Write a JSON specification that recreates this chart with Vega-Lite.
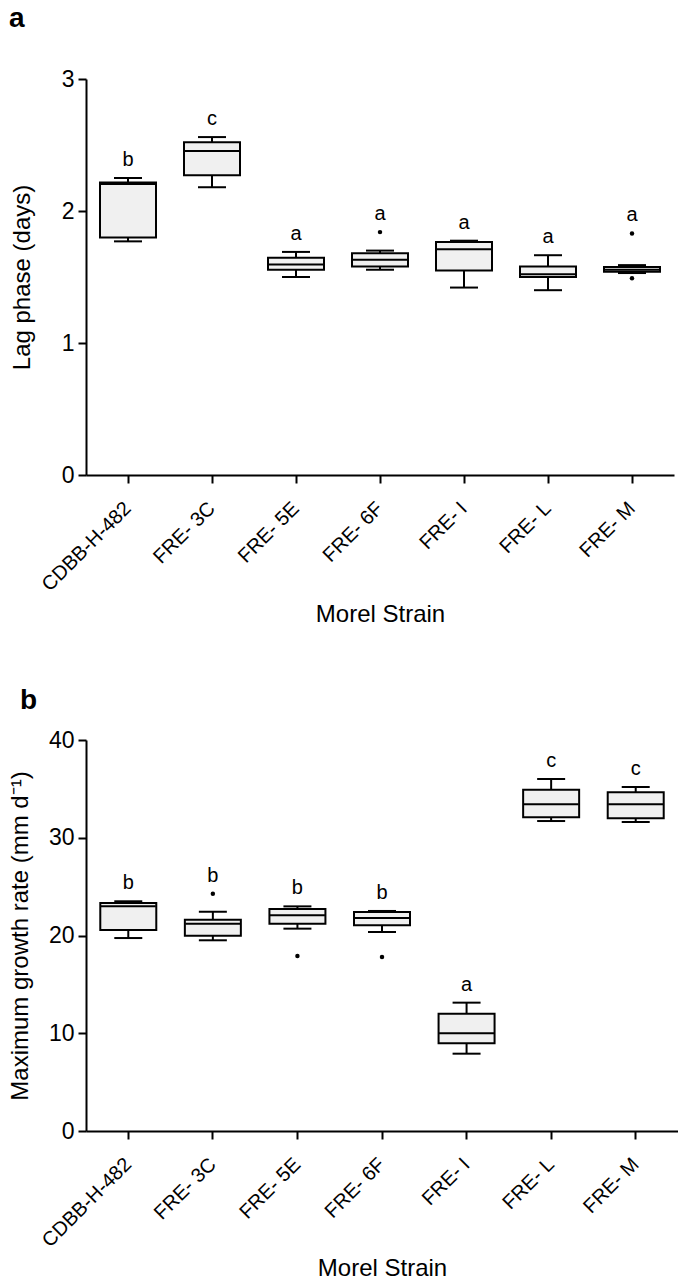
{
  "$schema": "https://vega.github.io/schema/vega-lite/v6.json",
  "padding": {"left": 8, "top": 5, "right": 0, "bottom": 0},
  "background": "white",
  "spacing": 61,
  "config": {
    "font": "Liberation Sans",
    "view": {"stroke": null},
    "axis": {
      "domainColor": "black", "domainWidth": 2, "tickColor": "black", "tickWidth": 2, "tickSize": 8,
      "labelColor": "black", "labelFontSize": 23, "labelPadding": 4, "titleColor": "black",
      "titleFontSize": 24, "titleFontWeight": "normal", "grid": false
    }
  },
  "datasets": {
    "lag": [
      {"strain": "CDBB-H-482", "min": 1.77, "q1": 1.80, "median": 2.205, "q3": 2.215, "max": 2.25, "letter": "b"},
      {"strain": "FRE- 3C", "min": 2.18, "q1": 2.27, "median": 2.455, "q3": 2.52, "max": 2.56, "letter": "c"},
      {"strain": "FRE- 5E", "min": 1.50, "q1": 1.555, "median": 1.595, "q3": 1.645, "max": 1.69, "letter": "a"},
      {"strain": "FRE- 6F", "min": 1.555, "q1": 1.58, "median": 1.63, "q3": 1.68, "max": 1.70, "out_hi": 1.84, "letter": "a"},
      {"strain": "FRE- I", "min": 1.42, "q1": 1.55, "median": 1.71, "q3": 1.765, "max": 1.775, "letter": "a"},
      {"strain": "FRE- L", "min": 1.40, "q1": 1.50, "median": 1.52, "q3": 1.58, "max": 1.665, "letter": "a"},
      {"strain": "FRE- M", "min": 1.53, "q1": 1.54, "median": 1.555, "q3": 1.575, "max": 1.59, "out_hi": 1.83, "letter": "a"}
    ],
    "lag_out": [
      {"strain": "FRE- 6F", "value": 1.84},
      {"strain": "FRE- M", "value": 1.83},
      {"strain": "FRE- M", "value": 1.49}
    ],
    "rate": [
      {"strain": "CDBB-H-482", "min": 19.74, "q1": 20.56, "median": 22.98, "q3": 23.32, "max": 23.50, "letter": "b"},
      {"strain": "FRE- 3C", "min": 19.51, "q1": 19.98, "median": 21.21, "q3": 21.62, "max": 22.43, "out_hi": 24.28, "letter": "b"},
      {"strain": "FRE- 5E", "min": 20.70, "q1": 21.21, "median": 22.06, "q3": 22.71, "max": 22.98, "letter": "b"},
      {"strain": "FRE- 6F", "min": 20.36, "q1": 21.04, "median": 21.79, "q3": 22.40, "max": 22.51, "letter": "b"},
      {"strain": "FRE- I", "min": 7.91, "q1": 8.97, "median": 9.99, "q3": 12.00, "max": 13.13, "letter": "a"},
      {"strain": "FRE- L", "min": 31.71, "q1": 32.09, "median": 33.42, "q3": 34.92, "max": 36.01, "letter": "c"},
      {"strain": "FRE- M", "min": 31.61, "q1": 31.99, "median": 33.42, "q3": 34.65, "max": 35.19, "letter": "c"}
    ],
    "rate_out": [
      {"strain": "FRE- 3C", "value": 24.28},
      {"strain": "FRE- 5E", "value": 17.90},
      {"strain": "FRE- 6F", "value": 17.80}
    ]
  },
  "vconcat": [
    {
      "width": 588, "height": 396,
      "title": {"text": "a", "anchor": "start", "frame": "group", "dx": -77, "fontSize": 28, "fontWeight": "bold", "offset": 13, "baseline": "alphabetic", "color": "black"},
      "data": {"name": "lag"},
      "encoding": {
        "x": {
          "field": "strain", "type": "nominal", "sort": null,
          "scale": {"domain": ["CDBB-H-482", "FRE- 3C", "FRE- 5E", "FRE- 6F", "FRE- I", "FRE- L", "FRE- M"], "paddingInner": 0, "paddingOuter": 0},
          "axis": {"title": "Morel Strain", "labelAngle": -45, "labelAlign": "right", "labelBaseline": "middle", "labelFontSize": 20, "labelPadding": 22, "titleY": 146, "titleBaseline": "alphabetic"}
        }
      },
      "layer": [
        {
          "mark": {"type": "rule", "strokeWidth": 2, "color": "black"},
          "encoding": {
            "y": {"field": "min", "type": "quantitative", "scale": {"domain": [0, 3], "nice": false}, "axis": {"title": "Lag phase (days)", "values": [0, 1, 2, 3], "format": "d", "titleX": -52, "titleBaseline": "bottom"}},
            "y2": {"field": "q1"}
          }
        },
        {"mark": {"type": "rule", "strokeWidth": 2, "color": "black"}, "encoding": {"y": {"field": "q3", "type": "quantitative"}, "y2": {"field": "max"}}},
        {"mark": {"type": "tick", "size": 28, "thickness": 2, "color": "black", "opacity": 1}, "encoding": {"y": {"field": "min", "type": "quantitative"}}},
        {"mark": {"type": "tick", "size": 28, "thickness": 2, "color": "black", "opacity": 1}, "encoding": {"y": {"field": "max", "type": "quantitative"}}},
        {"mark": {"type": "bar", "size": 56, "fill": "#f0f0f0", "stroke": "black", "strokeWidth": 2}, "encoding": {"y": {"field": "q1", "type": "quantitative"}, "y2": {"field": "q3"}}},
        {"mark": {"type": "tick", "size": 55, "thickness": 2, "color": "black", "opacity": 1}, "encoding": {"y": {"field": "median", "type": "quantitative"}}},
        {"data": {"name": "lag_out"}, "mark": {"type": "circle", "size": 20, "color": "black", "opacity": 1}, "encoding": {"y": {"field": "value", "type": "quantitative"}}},
        {
          "transform": [{"calculate": "isValid(datum.out_hi) ? max(datum.max, datum.out_hi) : datum.max", "as": "top"}],
          "mark": {"type": "text", "dy": -18, "fontSize": 20, "baseline": "middle", "color": "black"},
          "encoding": {"y": {"field": "top", "type": "quantitative"}, "text": {"field": "letter"}}
        }
      ]
    },
    {
      "width": 592, "height": 391,
      "title": {"text": "b", "anchor": "start", "frame": "group", "dx": -66, "fontSize": 28, "fontWeight": "bold", "offset": -8, "baseline": "alphabetic", "color": "black"},
      "data": {"name": "rate"},
      "encoding": {
        "x": {
          "field": "strain", "type": "nominal", "sort": null,
          "scale": {"domain": ["CDBB-H-482", "FRE- 3C", "FRE- 5E", "FRE- 6F", "FRE- I", "FRE- L", "FRE- M"], "paddingInner": 0, "paddingOuter": 0},
          "axis": {"title": "Morel Strain", "labelAngle": -45, "labelAlign": "right", "labelBaseline": "middle", "labelFontSize": 20, "labelPadding": 22, "titleY": 144, "titleBaseline": "alphabetic"}
        }
      },
      "layer": [
        {
          "mark": {"type": "rule", "strokeWidth": 2, "color": "black"},
          "encoding": {
            "y": {"field": "min", "type": "quantitative", "scale": {"domain": [0, 40], "nice": false}, "axis": {"title": "Maximum growth rate (mm d⁻¹)", "values": [0, 10, 20, 30, 40], "titleX": -54, "titleBaseline": "bottom"}},
            "y2": {"field": "q1"}
          }
        },
        {"mark": {"type": "rule", "strokeWidth": 2, "color": "black"}, "encoding": {"y": {"field": "q3", "type": "quantitative"}, "y2": {"field": "max"}}},
        {"mark": {"type": "tick", "size": 28, "thickness": 2, "color": "black", "opacity": 1}, "encoding": {"y": {"field": "min", "type": "quantitative"}}},
        {"mark": {"type": "tick", "size": 28, "thickness": 2, "color": "black", "opacity": 1}, "encoding": {"y": {"field": "max", "type": "quantitative"}}},
        {"mark": {"type": "bar", "size": 56, "fill": "#f0f0f0", "stroke": "black", "strokeWidth": 2}, "encoding": {"y": {"field": "q1", "type": "quantitative"}, "y2": {"field": "q3"}}},
        {"mark": {"type": "tick", "size": 55, "thickness": 2, "color": "black", "opacity": 1}, "encoding": {"y": {"field": "median", "type": "quantitative"}}},
        {"data": {"name": "rate_out"}, "mark": {"type": "circle", "size": 20, "color": "black", "opacity": 1}, "encoding": {"y": {"field": "value", "type": "quantitative"}}},
        {
          "transform": [{"calculate": "isValid(datum.out_hi) ? max(datum.max, datum.out_hi) : datum.max", "as": "top"}],
          "mark": {"type": "text", "dy": -18, "fontSize": 20, "baseline": "middle", "color": "black"},
          "encoding": {"y": {"field": "top", "type": "quantitative"}, "text": {"field": "letter"}}
        }
      ]
    }
  ]
}
